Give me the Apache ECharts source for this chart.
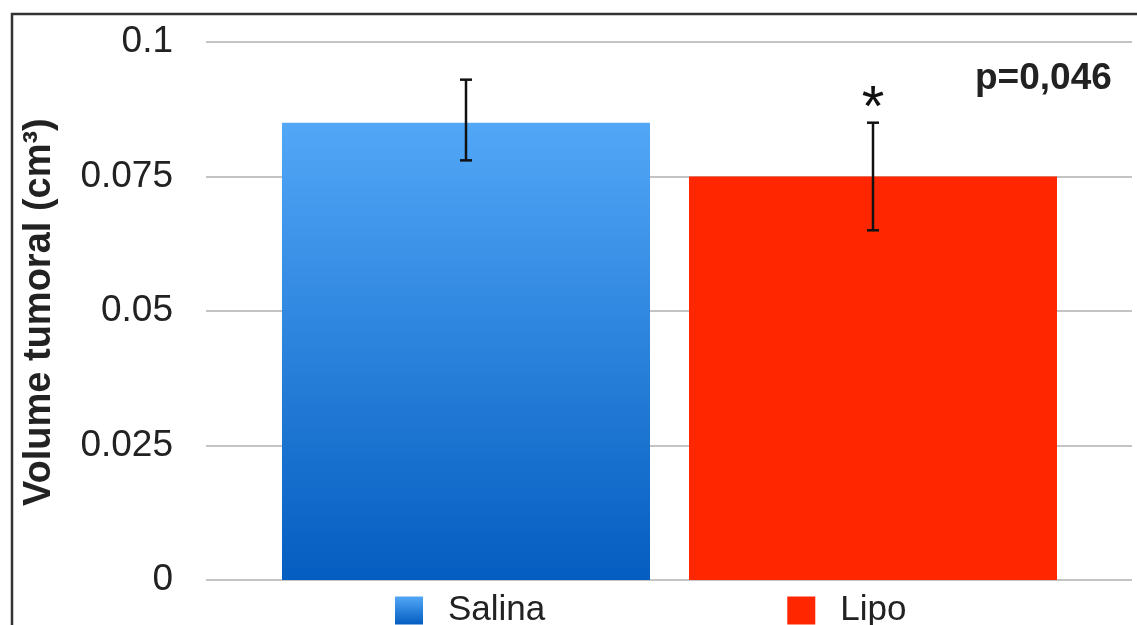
<!DOCTYPE html>
<html>
<head>
<meta charset="utf-8">
<script src="https://cdn.jsdelivr.net/npm/echarts@6/dist/echarts.min.js"></script>
<style>
html,body{margin:0;padding:0;background:#fff;}
#chart{width:1137px;height:625px;}
</style>
</head>
<body>
<div id="chart"></div>
<script>
// ---- data ----
const categories = ['Salina', 'Lipo'];
const meanValues = [0.085, 0.075];
const errLow = [0.078, 0.065];
const errHigh = [0.093, 0.085];
const significance = ['', '*'];
const yTicks = [0, 0.025, 0.05, 0.075, 0.1];
const yAxisTitle = 'Volume tumoral (cm³)';
const pValueText = 'p=0,046';

const FONT = '"Liberation Sans", Arial, Helvetica, sans-serif';
const chart = echarts.init(document.getElementById('chart'), null, {renderer: 'canvas'});

const salinaColor = new echarts.graphic.LinearGradient(0, 0, 0, 1, [
  {offset: 0, color: '#52a7f7'},
  {offset: 1, color: '#045dc0'}
]);
const lipoColor = '#ff2600';

const errData = categories.map((c, i) => [i, errLow[i], errHigh[i], significance[i]]);

const option = {
  animation: false,
  backgroundColor: '#fff',
  textStyle: {fontFamily: FONT},
  graphic: [
    {type: 'rect', shape: {x: 12, y: 14, width: 1200, height: 700},
     style: {fill: 'none', stroke: '#333', lineWidth: 2.5}, silent: true, z: 100},
    {type: 'text', left: 975, top: 60, style: {text: pValueText, font: 'bold 37px ' + FONT, fill: '#222'}},
    {type: 'text', rotation: Math.PI / 2, x: 21, y: 506,
     style: {text: yAxisTitle, font: 'bold 38px ' + FONT, fill: '#222', textAlign: 'left', textVerticalAlign: 'top'}}
  ],
  legend: {
    data: categories,
    left: 390, top: 588,
    itemWidth: 28, itemHeight: 28,
    itemGap: 242,
    icon: 'rect',
    textStyle: {fontSize: 35, color: '#222', fontFamily: FONT, padding: [0, 0, 0, 20]}
  },
  grid: [
    {left: 206, right: 5, top: 42, bottom: 45},
    {left: 262.5, right: 60.5, top: 42, bottom: 45}
  ],
  xAxis: [
    {gridIndex: 0, type: 'category', data: [''], show: false},
    {gridIndex: 1, type: 'category', data: categories, show: false}
  ],
  yAxis: [
    {gridIndex: 0, type: 'value', min: yTicks[0], max: yTicks[yTicks.length - 1], interval: 0.025,
     axisLine: {show: false}, axisTick: {show: false},
     axisLabel: {fontSize: 37, color: '#222', margin: 33, fontFamily: FONT,
                 formatter: v => String(+v.toFixed(3))},
     splitLine: {lineStyle: {color: '#c4c4c4', width: 2}}},
    {gridIndex: 1, type: 'value', min: yTicks[0], max: yTicks[yTicks.length - 1], show: false}
  ],
  series: [
    {name: 'Salina', type: 'bar', xAxisIndex: 1, yAxisIndex: 1, barWidth: 368, barGap: '-100%',
     itemStyle: {color: salinaColor}, data: [meanValues[0], '-']},
    {name: 'Lipo', type: 'bar', xAxisIndex: 1, yAxisIndex: 1, barWidth: 368, barGap: '-100%',
     itemStyle: {color: lipoColor}, data: ['-', meanValues[1]]},
    {name: 'err', type: 'custom', xAxisIndex: 1, yAxisIndex: 1, z: 10,
     data: errData,
     renderItem: function (params, api) {
       const x = api.value(0);
       const lo = api.coord([x, api.value(1)]);
       const hi = api.coord([x, api.value(2)]);
       const cw = 12;
       const st = {stroke: '#111', lineWidth: 2.5};
       const children = [
         {type: 'line', shape: {x1: hi[0], y1: hi[1], x2: lo[0], y2: lo[1]}, style: st},
         {type: 'line', shape: {x1: hi[0] - cw / 2, y1: hi[1], x2: hi[0] + cw / 2, y2: hi[1]}, style: st},
         {type: 'line', shape: {x1: lo[0] - cw / 2, y1: lo[1], x2: lo[0] + cw / 2, y2: lo[1]}, style: st}
       ];
       const s = api.value(3);
       if (s) {
         children.push({type: 'text', x: hi[0], y: hi[1] + 16,
           style: {text: s, font: '58px ' + FONT, fill: '#111', textAlign: 'center', textVerticalAlign: 'bottom'}});
       }
       return {type: 'group', children: children};
     }}
  ]
};
chart.setOption(option);
</script>
</body>
</html>
